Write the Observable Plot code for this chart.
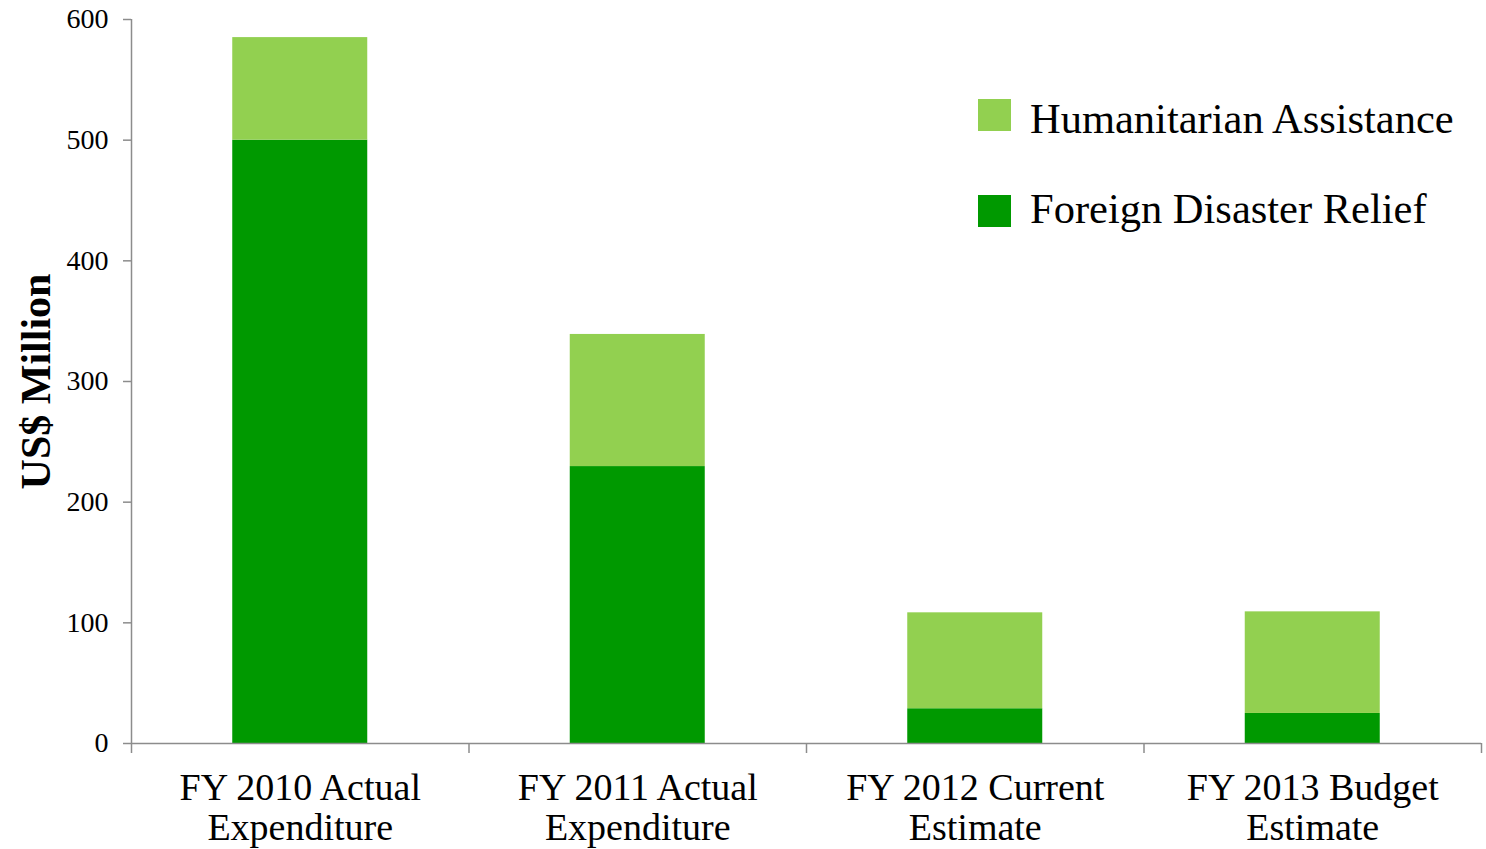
<!DOCTYPE html>
<html>
<head>
<meta charset="utf-8">
<script src="https://cdn.jsdelivr.net/npm/d3@7"></script>
<script src="https://cdn.jsdelivr.net/npm/@observablehq/plot@0.6"></script>
<style>
  html, body { margin: 0; padding: 0; background: #fff; }
  #wrap { position: relative; width: 1486px; height: 849px; font-family: "Liberation Serif", "Times New Roman", serif; }
  .lg-sw { position: absolute; width: 33px; height: 32px; }
  .lg-tx { position: absolute; font-size: 42.5px; line-height: 42px; color: #000; white-space: nowrap; }
</style>
</head>
<body>
<div id="wrap"></div>
<script>
const categories = [
  "FY 2010 Actual\nExpenditure",
  "FY 2011 Actual\nExpenditure",
  "FY 2012 Current\nEstimate",
  "FY 2013 Budget\nEstimate"
];
const seriesNames = ["Foreign Disaster Relief", "Humanitarian Assistance"];
const foreignDisasterRelief = [500, 229.5, 28.8, 24.9];
const humanitarianAssistance = [85, 109.5, 79.5, 84.2];
const seriesColors = ["#009900", "#92D050"];
const yTicks = [0, 100, 200, 300, 400, 500, 600];
const yLabel = "US$ Million";

// Build stacked table
const data = [];
categories.forEach((c, i) => {
  let base = 0;
  [foreignDisasterRelief, humanitarianAssistance].forEach((arr, s) => {
    data.push({i, category: c, series: seriesNames[s], y1: base, y2: base + arr[i]});
    base += arr[i];
  });
});

const gray = "#8c8c8c";
const chart = Plot.plot({
  width: 1486,
  height: 849,
  marginLeft: 131,
  marginRight: 5,
  marginTop: 19,
  marginBottom: 106,
  style: {fontFamily: "'Liberation Serif', 'Times New Roman', serif", color: "#000", background: "#fff"},
  x: {domain: [0, categories.length], axis: null},
  y: {domain: [0, 600], axis: null},
  color: {domain: seriesNames, range: seriesColors},
  marks: [
    Plot.rectY(data, {x1: d => d.i + 0.3, x2: d => d.i + 0.7, y1: "y1", y2: "y2", fill: "series"}),
    Plot.ruleX([0], {stroke: gray, strokeWidth: 1.5}),
    Plot.ruleY([0], {stroke: gray, strokeWidth: 1.5}),
    Plot.axisY({ticks: yTicks, tickSize: 8, tickPadding: 15, fontSize: 28, stroke: gray, strokeWidth: 1.5, label: null, tickFormat: d => String(d)}),
    Plot.axisX({ticks: d3.range(categories.length + 1), tickSize: 10, tickFormat: () => "", stroke: gray, strokeWidth: 1.5, label: null}),
    Plot.axisX({ticks: categories.map((c, i) => i + 0.5), tickSize: 0, tickPadding: 28, fontSize: 38, lineHeight: 1.05, tickFormat: v => categories[v - 0.5], label: null}),
    Plot.text([yLabel], {frameAnchor: "left", textAnchor: "middle", lineAnchor: "middle", rotate: -90, dx: -95, fontSize: 42, fontWeight: "bold"})
  ]
});

const wrap = document.getElementById("wrap");
wrap.appendChild(chart);

// Legend (overlay, inside plot area)
const legendItems = [
  {name: seriesNames[1], color: seriesColors[1], sw: 99, tx: 98},
  {name: seriesNames[0], color: seriesColors[0], sw: 195, tx: 188}
];
legendItems.forEach(it => {
  const sw = document.createElement("div");
  sw.className = "lg-sw";
  sw.style.left = "978px";
  sw.style.top = it.sw + "px";
  sw.style.background = it.color;
  wrap.appendChild(sw);
  const tx = document.createElement("div");
  tx.className = "lg-tx";
  tx.style.left = "1030px";
  tx.style.top = it.tx + "px";
  tx.textContent = it.name;
  wrap.appendChild(tx);
});
</script>
</body>
</html>
